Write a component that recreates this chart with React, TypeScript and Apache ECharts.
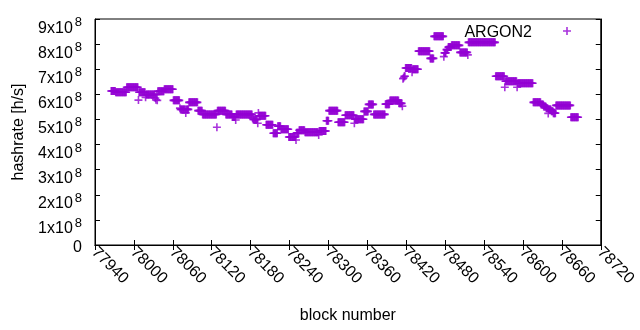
import React, { useEffect, useRef } from "react";
import * as echarts from "echarts";

// Runs of consecutive blocks sharing the same hashrate
const runFirstBlock = [
  77965, 77972, 77989, 78007, 78008, 78018, 78019, 78033, 78034, 78035, 78036, 78037, 78047, 78061, 78071,
  78072, 78080, 78081, 78085, 78099, 78106, 78128, 78129, 78142, 78152, 78157, 78158, 78183, 78184, 78191,
  78192, 78193, 78204, 78215, 78222, 78227, 78239, 78250, 78251, 78255, 78264, 78285, 78286, 78297, 78301,
  78315, 78326, 78340, 78341, 78355, 78362, 78370, 78388, 78395, 78409, 78414, 78415, 78416, 78417, 78419,
  78429, 78430, 78439, 78457, 78463, 78478, 78479, 78482, 78485, 78490, 78503, 78515, 78516, 78558, 78572,
  78573, 78591, 78592, 78616, 78628, 78632, 78636, 78639, 78640, 78644, 78647, 78651, 78674,
];
const runLastBlock = [
  77971, 77988, 78006, 78007, 78017, 78018, 78032, 78033, 78034, 78035, 78036, 78046, 78060, 78070, 78071,
  78079, 78080, 78084, 78098, 78105, 78127, 78128, 78141, 78151, 78156, 78157, 78182, 78183, 78190, 78191,
  78192, 78203, 78214, 78221, 78226, 78238, 78249, 78250, 78254, 78263, 78284, 78285, 78296, 78300, 78314,
  78325, 78339, 78340, 78354, 78361, 78369, 78387, 78394, 78408, 78413, 78414, 78415, 78416, 78418, 78428,
  78429, 78438, 78456, 78462, 78477, 78478, 78481, 78484, 78489, 78502, 78514, 78515, 78557, 78571, 78572,
  78590, 78591, 78615, 78627, 78631, 78635, 78638, 78639, 78643, 78646, 78650, 78673, 78685,
];
const runHashrate = [
  6.13e8, 6.08e8, 6.28e8, 5.77e8, 6.08e8, 5.88e8, 5.99e8, 5.85e8, 5.78e8, 6.0e8, 5.76e8, 6.12e8, 6.2e8, 5.76e8, 5.45e8,
  5.4e8, 5.26e8, 5.4e8, 5.68e8, 5.35e8, 5.2e8, 4.69e8, 5.35e8, 5.2e8, 5.1e8, 4.98e8, 5.2e8, 5.05e8, 5.0e8, 4.85e8,
  5.26e8, 5.15e8, 4.79e8, 4.45e8, 4.73e8, 4.61e8, 4.3e8, 4.18e8, 4.47e8, 4.57e8, 4.49e8, 4.38e8, 4.54e8, 4.95e8, 5.35e8,
  4.89e8, 5.17e8, 4.85e8, 5.01e8, 5.32e8, 5.6e8, 5.2e8, 5.61e8, 5.75e8, 5.64e8, 5.53e8, 6.62e8, 6.66e8, 6.72e8, 7.05e8,
  6.88e8, 7.0e8, 7.72e8, 7.43e8, 8.31e8, 7.5e8, 7.65e8, 7.78e8, 7.88e8, 7.95e8, 7.67e8, 7.57e8, 8.07e8, 6.72e8, 6.28e8,
  6.52e8, 6.28e8, 6.44e8, 5.68e8, 5.6e8, 5.52e8, 5.45e8, 5.24e8, 5.4e8, 5.33e8, 5.25e8, 5.56e8, 5.09e8,
];

const xMin = 77940;
const xMax = 78720;
const xStep = 60;
const yMin = 0;
const yMax = 9e8;
const yStep = 1e8;
const yExponent = 8;
const seriesName = "ARGON2";

const FONT = "'Liberation Sans', Arial, sans-serif";
const COLOR = "#9400d3";
const CROSS = "path://M3.6,0H5.4V3.6H9V5.4H5.4V9H3.6V5.4H0V3.6H3.6Z";

export default function App() {
  const ref = useRef<HTMLDivElement>(null);

  useEffect(() => {
    if (!ref.current) return;
    const chart = echarts.init(ref.current, null, { renderer: "svg" });

    const points: [number, number][] = [];
    runFirstBlock.forEach((first, i) => {
      for (let b = first; b <= runLastBlock[i]; b++) points.push([b, runHashrate[i]]);
    });

    const tick = { show: true, inside: true, length: 5, lineStyle: { color: "#000", width: 1 } };
    const line = { show: true, lineStyle: { color: "#000", width: 1 } };

    chart.setOption({
      animation: false,
      textStyle: { fontFamily: FONT },
      grid: { left: 95, right: 31, top: 19, bottom: 85, show: true, borderColor: "#000", borderWidth: 1, backgroundColor: "transparent" },
      legend: {
        data: [seriesName],
        right: 69,
        top: 23,
        align: "right",
        icon: CROSS,
        itemWidth: 8,
        itemHeight: 8,
        itemGap: 0,
        padding: 0,
        textStyle: { fontSize: 16, color: "#000", fontFamily: FONT, padding: [0, 26, 0, 0] },
      },
      xAxis: [
        {
          type: "value",
          min: xMin,
          max: xMax,
          interval: xStep,
          position: "bottom",
          name: "block number",
          nameLocation: "middle",
          nameGap: 61,
          nameTextStyle: { fontSize: 16, color: "#000", fontFamily: FONT },
          axisLine: line,
          axisTick: tick,
          splitLine: { show: false },
          axisLabel: {
            rotate: -45,
            margin: 4,
            fontSize: 16,
            color: "#000",
            fontFamily: FONT,
            showMinLabel: true,
            showMaxLabel: true,
            formatter: (v: number) => String(v),
          },
        },
        {
          type: "value",
          min: xMin,
          max: xMax,
          interval: xStep,
          position: "top",
          axisLine: line,
          axisTick: tick,
          splitLine: { show: false },
          axisLabel: { show: false },
        },
      ],
      yAxis: [
        {
          type: "value",
          min: yMin,
          max: yMax,
          interval: yStep,
          position: "left",
          name: "hashrate [h/s]",
          nameLocation: "middle",
          nameRotate: 90,
          nameGap: 70,
          nameTextStyle: { fontSize: 16, color: "#000", fontFamily: FONT },
          axisLine: line,
          axisTick: tick,
          splitLine: { show: false },
          axisLabel: {
            margin: 13,
            color: "#000",
            fontSize: 16,
            fontFamily: FONT,
            verticalAlign: "top",
            showMinLabel: true,
            showMaxLabel: true,
            formatter: (v: number) =>
              v === 0 ? "{z|0}" : `{a|${Math.round(v / Math.pow(10, yExponent))}x10}{b|${yExponent}}`,
            rich: {
              a: { fontSize: 16, height: 16, lineHeight: 16, color: "#000", fontFamily: FONT, verticalAlign: "middle" },
              b: { fontSize: 13, lineHeight: 16, color: "#000", fontFamily: FONT, verticalAlign: "top", padding: [-4, 0, 0, 2] },
              z: { fontSize: 16, height: 3, lineHeight: 3, color: "#000", fontFamily: FONT, verticalAlign: "middle" },
            },
          },
        },
        {
          type: "value",
          min: yMin,
          max: yMax,
          interval: yStep,
          position: "right",
          axisLine: line,
          axisTick: tick,
          splitLine: { show: false },
          axisLabel: { show: false },
        },
      ],
      series: [
        {
          name: seriesName,
          type: "scatter",
          xAxisIndex: 0,
          yAxisIndex: 0,
          data: points,
          symbol: CROSS,
          symbolSize: 8,
          itemStyle: { color: COLOR },
          emphasis: { disabled: true },
        },
      ],
    });

    return () => chart.dispose();
  }, []);

  return <div ref={ref} style={{ position: "fixed", left: 0, top: 0, width: 640, height: 330 }} />;
}
